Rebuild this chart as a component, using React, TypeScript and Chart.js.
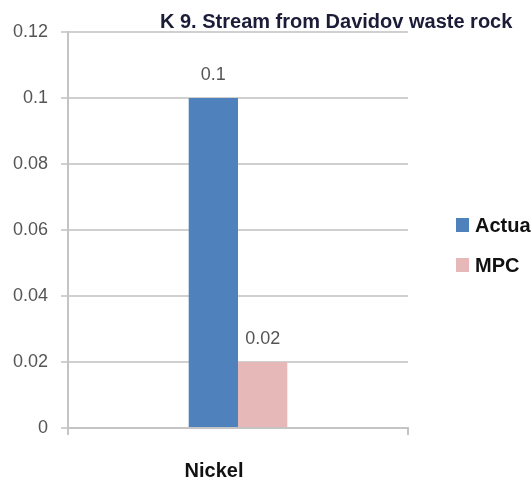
import React, { useEffect, useRef } from "react";
import { Chart, registerables } from "chart.js";

Chart.register(...registerables);

const categories = ["Nickel"];
const seriesNames = ["Actual", "MPC"];
const actualValues = [0.1];
const mpcValues = [0.02];
const yTickLabels = ["0", "0.02", "0.04", "0.06", "0.08", "0.1", "0.12"];
const chartTitle = "K 9. Stream from Davidov waste rock";

const FONT = "'Liberation Sans', Arial, sans-serif";
const COLORS = ["#4f81bd", "#e6b9b8"];

const overlayPlugin = {
  id: "overlay",
  afterDatasetsDraw(chart: any) {
    const ctx = chart.ctx;
    ctx.save();
    // value labels above bars
    ctx.font = `18px ${FONT}`;
    ctx.fillStyle = "#555555";
    ctx.textAlign = "center";
    ctx.textBaseline = "middle";
    chart.data.datasets.forEach((ds: any, di: number) => {
      const meta = chart.getDatasetMeta(di);
      meta.data.forEach((el: any, i: number) => {
        ctx.fillText(String(ds.data[i]), el.x, el.y - 23);
      });
    });
    // title
    ctx.textAlign = "left";
    ctx.textBaseline = "alphabetic";
    ctx.font = `bold 20px ${FONT}`;
    ctx.fillStyle = "#1a1c38";
    ctx.fillText(chartTitle, 160, 28);
    // legend
    chart.data.datasets.forEach((ds: any, di: number) => {
      const y = 218 + di * 40;
      ctx.fillStyle = ds.backgroundColor;
      ctx.fillRect(456, y, 13, 14);
      ctx.fillStyle = "#111111";
      ctx.font = `bold 20px ${FONT}`;
      ctx.textBaseline = "middle";
      ctx.fillText(ds.label, 475, y + 8);
    });
    ctx.restore();
  },
};

export default function App() {
  const ref = useRef<HTMLCanvasElement>(null);
  useEffect(() => {
    if (!ref.current) return;
    const chart = new Chart(ref.current, {
      type: "bar",
      data: {
        labels: categories,
        datasets: [
          { label: seriesNames[0], data: actualValues, backgroundColor: COLORS[0] },
          { label: seriesNames[1], data: mpcValues, backgroundColor: COLORS[1] },
        ],
      },
      options: {
        responsive: false,
        animation: false,
        devicePixelRatio: 1,
        layout: { padding: { left: 0, right: 123, top: 32, bottom: 0 } },
        datasets: { bar: { categoryPercentage: 0.29, barPercentage: 1 } } as any,
        plugins: {
          legend: { display: false },
          title: { display: false },
          tooltip: { enabled: false },
        },
        scales: {
          x: {
            afterFit: (scale: any) => {
              scale.height = 58;
            },
            grid: {
              display: true,
              drawOnChartArea: false,
              drawTicks: true,
              tickLength: 7,
              color: "#c4c4c4",
              lineWidth: 2,
              offset: true,
            },
            border: { display: true, color: "#c4c4c4", width: 2 },
            ticks: {
              font: { family: FONT, size: 20, weight: "bold" },
              color: "#111111",
              padding: 24,
              labelOffset: -24,
            },
          },
          y: {
            min: 0,
            max: 0.12,
            afterFit: (scale: any) => {
              scale.width = 68;
            },
            ticks: {
              stepSize: 0.02,
              callback: (_v: any, i: number) => yTickLabels[i],
              font: { family: FONT, size: 18 },
              color: "#555555",
              padding: 13,
            },
            grid: { color: "#d0d0d0", lineWidth: 2, tickLength: 7 },
            border: { display: true, color: "#c4c4c4", width: 2 },
          },
        },
      },
      plugins: [overlayPlugin],
    });
    return () => chart.destroy();
  }, []);
  return (
    <div style={{ position: "absolute", left: 0, top: 0, width: 531, height: 486, overflow: "hidden", background: "#fff" }}>
      <canvas ref={ref} width={531} height={486} style={{ display: "block" }} />
    </div>
  );
}
